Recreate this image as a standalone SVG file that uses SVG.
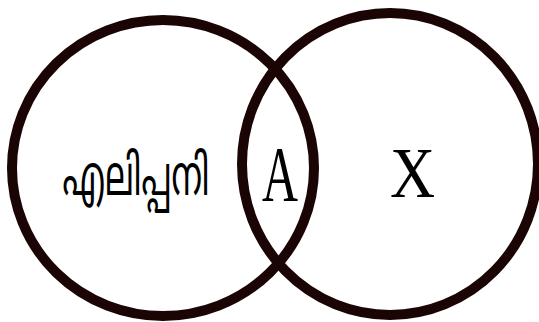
<svg xmlns="http://www.w3.org/2000/svg" width="539" height="322" viewBox="0 0 539 322">
<style>
.ring{fill:none;stroke:#1a0404;stroke-width:10}
.lat{font-family:"Liberation Serif","Times New Roman",serif;fill:#000}
.ml{font-family:"Noto Sans Malayalam","Noto Sans",sans-serif;fill:#000}
</style>
<rect width="539" height="322" fill="#fff"/>
<g id="connectors"></g>
<g id="left-set">
<ellipse class="ring" cx="163" cy="168" rx="151" ry="148"/>
<text class="ml" x="136" y="195" font-size="56" text-anchor="middle" textLength="147" lengthAdjust="spacingAndGlyphs">എലിപ്പനി</text>
</g>
<g id="right-set">
<ellipse class="ring" cx="390" cy="164" rx="148" ry="151"/>
<text class="lat" transform="translate(412.5 197) scale(0.88 1)" font-size="71" text-anchor="middle">X</text>
</g>
<g id="intersection">
<text class="lat" transform="translate(280 200) scale(0.635 1)" font-size="78.5" text-anchor="middle">A</text>
</g>
</svg>
